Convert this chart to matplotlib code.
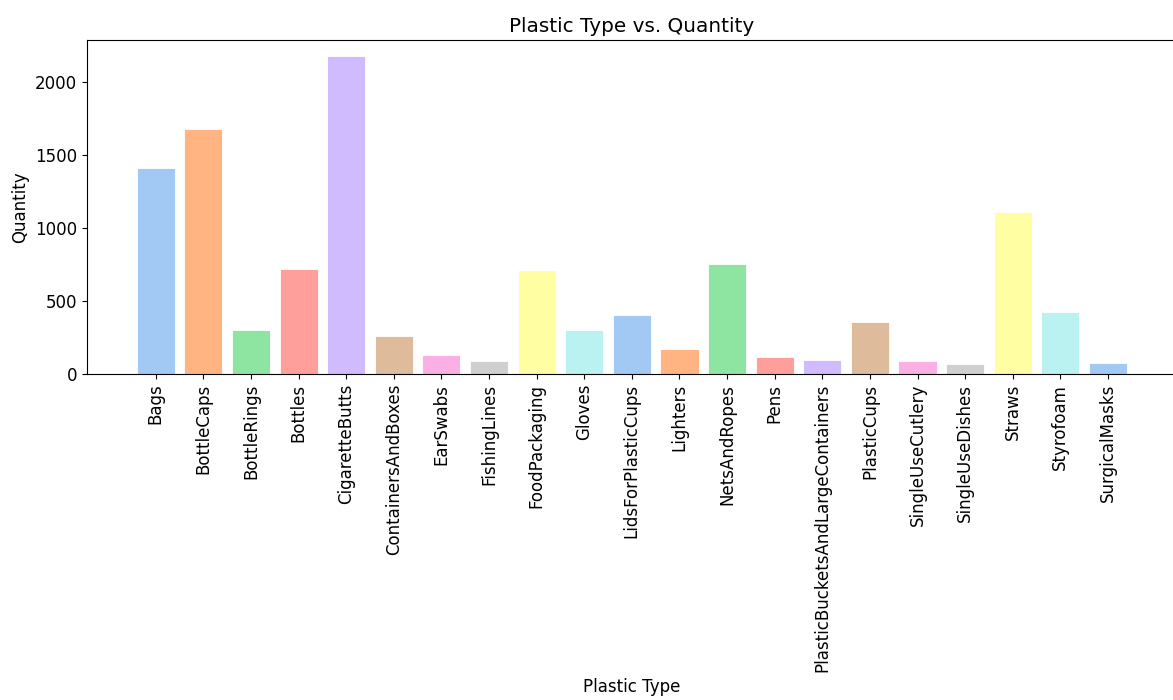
import matplotlib
matplotlib.use("Agg")
import matplotlib.pyplot as plt
import seaborn as sns

categories = ["Bags", "BottleCaps", "BottleRings", "Bottles", "CigaretteButts",
              "ContainersAndBoxes", "EarSwabs", "FishingLines", "FoodPackaging",
              "Gloves", "LidsForPlasticCups", "Lighters", "NetsAndRopes", "Pens",
              "PlasticBucketsAndLargeContainers", "PlasticCups", "SingleUseCutlery",
              "SingleUseDishes", "Straws", "Styrofoam", "SurgicalMasks"]
quantities = [1409, 1679, 304, 719, 2179, 263, 131, 89, 710, 298, 405, 174,
              753, 117, 98, 355, 91, 66, 1109, 428, 73]

plt.rcParams["font.size"] = 12

palette = sns.color_palette("pastel", 10)
colors = [palette[i % 10] for i in range(len(categories))]

fig = plt.figure(figsize=(11.73, 7.0), dpi=100)
left = 86.7 / 1173
right = 1177 / 1173
ax = fig.add_axes([left, 1 - 374 / 700, right - left, (374 - 40) / 700])

x = list(range(len(categories)))
ax.bar(x, quantities, width=0.8, color=colors, edgecolor="white", linewidth=0.6)
ax.set_xticks(x)
ax.set_xticklabels(categories, rotation=90, fontsize=12)
ax.tick_params(axis="y", labelsize=12)
ax.set_xlim(-1.45, len(categories) - 1 + 1.45)
ax.set_title("Plastic Type vs. Quantity", fontsize=14.4)
ax.set_ylabel("Quantity", fontsize=12)
ax.set_xlabel("Plastic Type", fontsize=12)

fig.savefig("out.png", dpi=100)
